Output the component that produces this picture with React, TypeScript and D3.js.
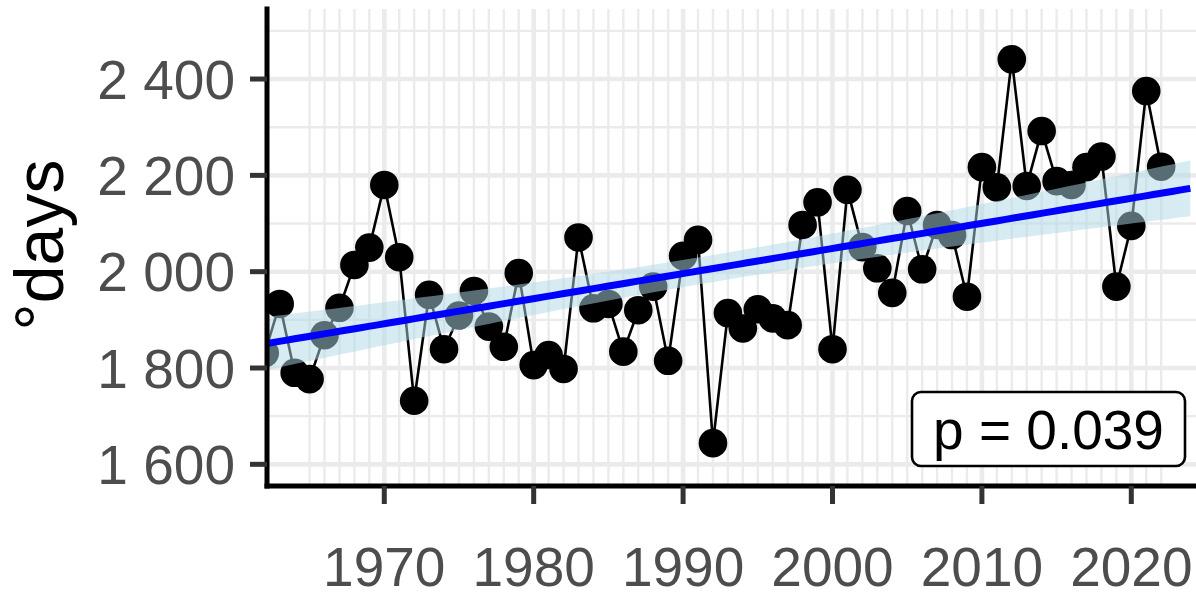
import React from "react";
import * as d3 from "d3";

// growing degree-days per year
const years = [
  1962, 1963, 1964, 1965, 1966, 1967, 1968, 1969,
  1970, 1971, 1972, 1973, 1974, 1975, 1976, 1977, 1978, 1979,
  1980, 1981, 1982, 1983, 1984, 1985, 1986, 1987, 1988, 1989,
  1990, 1991, 1992, 1993, 1994, 1995, 1996, 1997, 1998, 1999,
  2000, 2001, 2002, 2003, 2004, 2005, 2006, 2007, 2008, 2009,
  2010, 2011, 2012, 2013, 2014, 2015, 2016, 2017, 2018, 2019,
  2020, 2021, 2022,
];
const degreeDays = [
  1831, 1933, 1790, 1777, 1868, 1925, 2014, 2050,
  2180, 2030, 1732, 1952, 1839, 1909, 1960, 1886, 1844, 1997,
  1806, 1827, 1798, 2071, 1924, 1933, 1834, 1920, 1969, 1815,
  2033, 2066, 1644, 1914, 1882, 1922, 1903, 1889, 2097, 2144,
  1839, 2170, 2051, 2007, 1956, 2126, 2005, 2097, 2076, 1948,
  2217, 2175, 2441, 2178, 2292, 2188, 2180, 2217, 2239, 1969,
  2095, 2375, 2218,
];

// trend line as drawn in the figure (ends of the fitted line, residual sd of the fit)
const trendYears = [1962.15, 2023.95];
const trendValues = [1851, 2173];
const trendResidualSd = 109;

const yTicks = [1600, 1800, 2000, 2200, 2400];
const yMinorTicks = [1700, 1900, 2100, 2300, 2500];
const xTicks = [1970, 1980, 1990, 2000, 2010, 2020];
const xMinorTicks = d3.range(1965, 2023);
const yTitle = "°days";
const pLabel = "p = 0.039";

const W = 1196;
const H = 597;
const panel = { left: 267, right: 1196, top: 9, bottom: 486 };
const FONT = "'Liberation Sans', Arial, Helvetica, sans-serif";
const GRID = "#ebebeb";

// 95% confidence band around the trend line, lm-style
function trendBand(xs: number[]) {
  const n = xs.length;
  const mx = d3.mean(xs)!;
  const sxx = d3.sum(xs, (v) => (v - mx) ** 2);
  const slope = (trendValues[1] - trendValues[0]) / (trendYears[1] - trendYears[0]);
  const t = 2.001; // qt(0.975, 59)
  return (x0: number) => {
    const fit = trendValues[0] + slope * (x0 - trendYears[0]);
    const se = trendResidualSd * Math.sqrt(1 / n + (x0 - mx) ** 2 / sxx);
    return { fit, lo: fit - t * se, hi: fit + t * se };
  };
}

export default function App() {
  const x = d3.scaleLinear().domain([1962.15, 2024.33]).range([panel.left, panel.right]);
  const y = d3.scaleLinear().domain([1555, 2545.4]).range([panel.bottom, panel.top]);

  const model = trendBand(years);
  const band = d3.range(0, 101).map((i) => {
    const xv = trendYears[0] + (i / 100) * (trendYears[1] - trendYears[0]);
    return { x: xv, ...model(xv) };
  });

  const area = d3.area<typeof band[number]>()
    .x((d) => x(d.x))
    .y0((d) => y(d.lo))
    .y1((d) => y(d.hi));
  const fitLine = d3.line<typeof band[number]>()
    .x((d) => x(d.x))
    .y((d) => y(d.fit));
  const dataLine = d3.line<number>()
    .x((_, i) => x(years[i]))
    .y((d) => y(d));

  const fmt = (v: number) => d3.format(",")(v).replace(",", " ");

  return (
    <svg
      width={W}
      height={H}
      style={{ position: "absolute", left: 0, top: 0, display: "block", background: "#fff" }}
      fontFamily={FONT}
    >
      <defs>
        <clipPath id="panel-clip">
          <rect x={panel.left} y={panel.top} width={panel.right - panel.left} height={panel.bottom - panel.top} />
        </clipPath>
      </defs>

      {/* grid */}
      <g clipPath="url(#panel-clip)">
        {yMinorTicks.map((v) => (
          <line key={"ym" + v} x1={panel.left} x2={panel.right} y1={y(v)} y2={y(v)} stroke={GRID} strokeWidth={2.4} />
        ))}
        {xMinorTicks.map((v) => (
          <line key={"xm" + v} x1={x(v)} x2={x(v)} y1={panel.top} y2={panel.bottom} stroke={GRID} strokeWidth={2.4} />
        ))}
        {yTicks.map((v) => (
          <line key={"yM" + v} x1={panel.left} x2={panel.right} y1={y(v)} y2={y(v)} stroke={GRID} strokeWidth={4.6} />
        ))}
        {xTicks.map((v) => (
          <line key={"xM" + v} x1={x(v)} x2={x(v)} y1={panel.top} y2={panel.bottom} stroke={GRID} strokeWidth={4.6} />
        ))}

        {/* series */}
        <path d={dataLine(degreeDays) ?? ""} fill="none" stroke="#000" strokeWidth={2.6} />
        {degreeDays.map((v, i) => (
          <circle key={years[i]} cx={x(years[i])} cy={y(v)} r={14.3} fill="#000" />
        ))}

        {/* smooth */}
        <path d={area(band) ?? ""} fill="#add8e6" fillOpacity={0.5} />
        <path d={fitLine(band) ?? ""} fill="none" stroke="#0000ff" strokeWidth={7} />
      </g>

      {/* axes */}
      <line x1={panel.left} x2={panel.left} y1={panel.top} y2={panel.bottom} stroke="#000" strokeWidth={5} strokeLinecap="square" />
      <line x1={panel.left} x2={panel.right} y1={panel.bottom} y2={panel.bottom} stroke="#000" strokeWidth={5} strokeLinecap="square" />

      {yTicks.map((v) => (
        <g key={"yt" + v}>
          <line x1={250} x2={panel.left} y1={y(v)} y2={y(v)} stroke="#333" strokeWidth={5} />
          <text x={235} y={y(v)} dy="0.36em" textAnchor="end" fontSize={55} fill="#4d4d4d">
            {fmt(v)}
          </text>
        </g>
      ))}
      {xTicks.map((v) => (
        <g key={"xt" + v}>
          <line x1={x(v)} x2={x(v)} y1={panel.bottom} y2={504} stroke="#333" strokeWidth={5} />
          <text x={x(v)} y={586} textAnchor="middle" fontSize={55} fill="#4d4d4d">
            {v}
          </text>
        </g>
      ))}

      <text
        transform={`translate(63, 245) rotate(-90)`}
        textAnchor="middle"
        fontSize={68}
        fill="#000"
      >
        {yTitle}
      </text>

      {/* p-value label */}
      <g>
        <rect x={912} y={392} width={273} height={74} rx={9} fill="#fff" stroke="#000" strokeWidth={2.6} />
        <text x={1048.5} y={449} textAnchor="middle" fontSize={55} fill="#000">
          {pLabel}
        </text>
      </g>
    </svg>
  );
}
